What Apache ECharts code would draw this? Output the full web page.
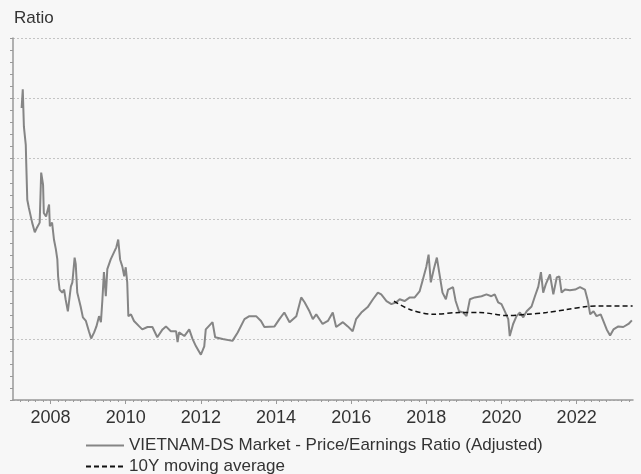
<!DOCTYPE html>
<html>
<head>
<meta charset="utf-8">
<title>VIETNAM-DS P/E</title>
<script src="https://cdn.jsdelivr.net/npm/echarts@6/dist/echarts.min.js"></script>
<style>
  html, body { margin: 0; padding: 0; background: #f7f7f7; }
  #chart { width: 641px; height: 474px; }
</style>
</head>
<body>
<div id="chart"></div>
<script>
// P/E ratio: [year, value]
var peData = [
  [2007.23, 48.4], [2007.26, 51.5], [2007.29, 45.3], [2007.34, 42.3], [2007.35, 39.8],
  [2007.38, 33.2], [2007.42, 31.9], [2007.51, 29.4], [2007.58, 27.8], [2007.64, 28.6],
  [2007.71, 29.4], [2007.75, 37.7], [2007.80, 35.7], [2007.82, 31.0], [2007.88, 30.4],
  [2007.96, 32.4], [2007.98, 28.8], [2008.04, 29.4], [2008.09, 26.6], [2008.14, 25.0],
  [2008.18, 23.3], [2008.20, 20.5], [2008.24, 18.3], [2008.31, 17.8], [2008.36, 18.3],
  [2008.40, 16.7], [2008.46, 14.7], [2008.54, 18.8], [2008.58, 19.5], [2008.64, 23.6],
  [2008.67, 22.5], [2008.71, 17.8], [2008.80, 15.5], [2008.86, 13.7], [2008.94, 13.1],
  [2009.02, 11.4], [2009.08, 10.2], [2009.16, 11.2], [2009.22, 12.2], [2009.29, 13.9],
  [2009.34, 12.9], [2009.38, 16.7], [2009.42, 21.2], [2009.47, 17.2], [2009.51, 21.7],
  [2009.60, 23.3], [2009.69, 24.5], [2009.75, 25.3], [2009.80, 26.6], [2009.85, 23.3],
  [2009.91, 22.1], [2009.96, 20.5], [2010.00, 22.0], [2010.04, 19.5], [2010.07, 13.9],
  [2010.14, 14.2], [2010.22, 13.1], [2010.36, 12.2], [2010.44, 11.7], [2010.58, 12.1],
  [2010.71, 12.1], [2010.84, 10.4], [2010.98, 11.7], [2011.07, 12.2], [2011.20, 11.4],
  [2011.34, 11.4], [2011.38, 9.6], [2011.42, 11.2], [2011.56, 10.6], [2011.69, 11.7],
  [2011.78, 10.1], [2011.87, 8.9], [2012.00, 7.5], [2012.09, 8.9], [2012.13, 11.7],
  [2012.31, 12.9], [2012.38, 10.4], [2012.58, 10.1], [2012.84, 9.8], [2012.98, 11.2],
  [2013.16, 13.4], [2013.29, 13.9], [2013.47, 13.9], [2013.60, 13.1], [2013.69, 12.1],
  [2013.96, 12.2], [2014.09, 13.4], [2014.22, 14.5], [2014.36, 12.9], [2014.54, 13.9],
  [2014.67, 17.0], [2014.76, 16.2], [2014.89, 14.7], [2014.98, 13.4], [2015.07, 14.2],
  [2015.24, 12.6], [2015.38, 13.1], [2015.51, 14.5], [2015.60, 12.1], [2015.78, 12.9],
  [2015.91, 12.2], [2016.04, 11.4], [2016.13, 13.4], [2016.27, 14.5], [2016.44, 15.4],
  [2016.58, 16.7], [2016.71, 17.8], [2016.80, 17.5], [2016.94, 16.4], [2017.07, 15.9],
  [2017.20, 16.2], [2017.29, 16.7], [2017.42, 16.4], [2017.56, 17.0], [2017.69, 17.0],
  [2017.82, 18.0], [2017.91, 20.0], [2018.00, 22.1], [2018.06, 24.1], [2018.12, 19.5],
  [2018.20, 21.7], [2018.28, 23.6], [2018.36, 20.5], [2018.43, 17.8], [2018.52, 16.7],
  [2018.58, 18.3], [2018.71, 18.7], [2018.78, 16.4], [2018.87, 14.7], [2018.98, 14.5],
  [2019.07, 13.9], [2019.16, 16.7], [2019.29, 17.0], [2019.47, 17.2], [2019.60, 17.5],
  [2019.73, 17.2], [2019.82, 17.5], [2019.91, 16.2], [2020.00, 15.9], [2020.09, 14.7],
  [2020.18, 13.4], [2020.22, 10.6], [2020.31, 12.6], [2020.40, 13.9], [2020.49, 14.5],
  [2020.58, 13.7], [2020.67, 14.7], [2020.80, 15.5], [2020.89, 17.2], [2020.98, 18.8],
  [2021.05, 21.2], [2021.11, 17.8], [2021.18, 19.2], [2021.29, 20.8], [2021.38, 17.5],
  [2021.47, 20.3], [2021.54, 20.5], [2021.60, 17.8], [2021.69, 18.3], [2021.82, 18.2],
  [2021.96, 18.3], [2022.09, 18.7], [2022.22, 18.3], [2022.30, 16.4], [2022.36, 14.2],
  [2022.45, 14.7], [2022.53, 13.9], [2022.64, 14.2], [2022.71, 13.1], [2022.80, 11.7],
  [2022.89, 10.7], [2022.98, 11.7], [2023.11, 12.2], [2023.24, 12.1], [2023.38, 12.6],
  [2023.47, 13.2]
];

// 10Y moving average
var maData = [
  [2017.14, 16.4], [2017.56, 15.0], [2018.18, 14.2], [2018.89, 14.5], [2019.42, 14.5],
  [2020.13, 14.0], [2020.67, 14.2], [2021.20, 14.5], [2021.73, 15.0], [2022.27, 15.5],
  [2022.62, 15.6], [2023.49, 15.6]
];

var yearTicks = [2008, 2010, 2012, 2014, 2016, 2018, 2020, 2022];
var seriesNames = ['VIETNAM-DS Market - Price/Earnings Ratio (Adjusted)', '10Y moving average'];

var myChart = echarts.init(document.getElementById('chart'));

var option = {
  backgroundColor: '#f7f7f7',
  animation: false,
  textStyle: { fontFamily: 'Liberation Sans, Arial, sans-serif' },
  title: {
    text: 'Ratio',
    left: 9,
    top: 5,
    textStyle: { fontSize: 17, fontWeight: 'normal', color: '#333' }
  },
  grid: { left: 13, right: 8, top: 38, bottom: 74 },
  legend: {
    orient: 'vertical',
    left: 85,
    top: 437,
    height: 60,
    itemWidth: 38,
    itemHeight: 10,
    itemGap: 4,
    padding: 0,
    itemStyle: { opacity: 0 },
    textStyle: { fontSize: 17, color: '#333' },
    data: seriesNames
  },
  xAxis: {
    type: 'value',
    min: 2007,
    max: 2023.5,
    interval: 1,
    axisLine: { lineStyle: { color: '#999', width: 1.5 } },
    axisTick: { customValues: yearTicks, length: 4, lineStyle: { color: '#999' } },
    minorTick: { show: true, splitNumber: 5, length: 2, lineStyle: { color: '#999' } },
    axisLabel: {
      customValues: yearTicks,
      fontSize: 18,
      color: '#333',
      margin: 9,
      formatter: function (v) { return String(v); }
    },
    splitLine: { show: false }
  },
  yAxis: {
    type: 'value',
    min: 0,
    max: 60,
    interval: 10,
    axisLine: { show: true, lineStyle: { color: '#999', width: 1.5 } },
    axisTick: { show: true, length: 3, lineStyle: { color: '#999' } },
    minorTick: { show: true, splitNumber: 5, length: 3, lineStyle: { color: '#999' } },
    axisLabel: { show: false },
    splitLine: { show: true, lineStyle: { color: '#c4c4c4', type: [2, 2], width: 1 } }
  },
  series: [{
    name: seriesNames[0],
    type: 'line',
    data: peData,
    symbol: 'none',
    lineStyle: { color: '#858585', width: 2 },
    itemStyle: { color: '#858585' },
    z: 2
  }, {
    name: seriesNames[1],
    type: 'line',
    data: maData,
    symbol: 'none',
    smooth: 0.3,
    lineStyle: { color: '#111', width: 1.5, type: [5, 3] },
    itemStyle: { color: '#111' },
    z: 3
  }]
};

myChart.setOption(option);
</script>
</body>
</html>
